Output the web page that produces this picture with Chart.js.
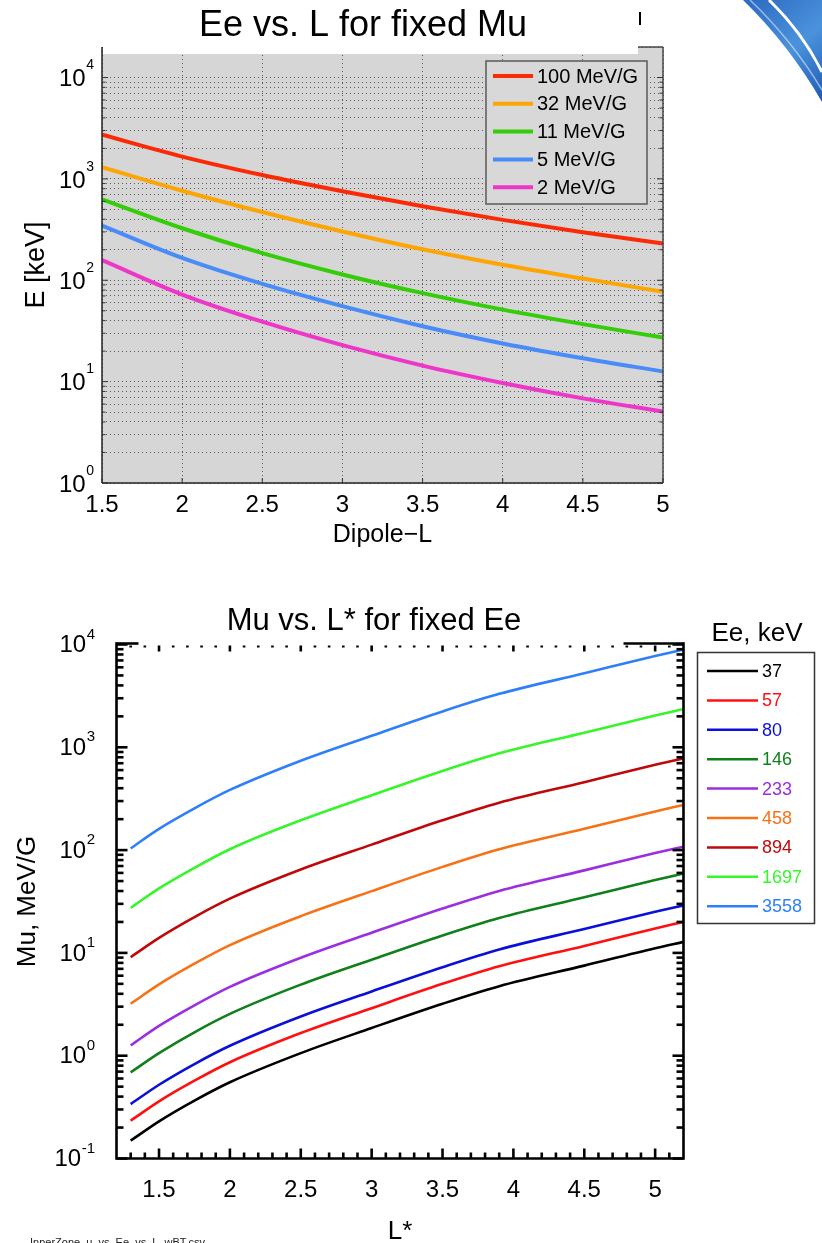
<!DOCTYPE html>
<html>
<head>
<meta charset="utf-8">
<script src="https://cdn.jsdelivr.net/npm/chart.js@4.4.1/dist/chart.umd.min.js"></script>
<style>
  body { margin: 0; background: #fff; width: 822px; height: 1243px; overflow: hidden; position: relative; }
  canvas { position: absolute; left: 0; }
  #topChart { top: 0; }
  #bottomChart { top: 560px; }
</style>
</head>
<body>
<canvas id="topChart" width="822" height="560"></canvas>
<canvas id="bottomChart" width="822" height="683"></canvas>
<script>
// ---- top panel: Ee vs. L for fixed Mu ----
const dipoleL = [1.5, 2, 2.5, 3, 3.5, 4, 4.5, 5];
const muLabels = ['100 MeV/G', '32 MeV/G', '11 MeV/G', '5 MeV/G', '2 MeV/G'];
const muColors = ['#fa2a06', '#fca505', '#35cc0a', '#4a8cf7', '#ee36c8'];
const eMu100 = [2723, 1660, 1091, 755, 538, 394, 298, 230];
const eMu32 = [1303, 764, 471, 303, 202, 142, 104, 77];
const eMu11 = [628, 326, 185, 114, 74.6, 51.3, 36.9, 27.2];
const eMu5 = [346, 166, 92, 55.5, 35.2, 23.8, 17.0, 12.6];
const eMu2 = [158, 72.3, 39.0, 22.9, 14.4, 9.7, 6.84, 5.06];

// ---- bottom panel: Mu vs. L* for fixed Ee ----
const lStar = [1.3, 1.5, 1.75, 2.0, 2.5, 3.0, 3.5, 3.9, 4.5, 5.0, 5.2];
const eeLabels = ['37', '57', '80', '146', '233', '458', '894', '1697', '3558'];
const eeColors = ['#000000', '#ff1010', '#0a10d8', '#10801a', '#9a2ee0', '#f77216', '#c00808', '#36f52a', '#2f7ffa'];
const mu37 = [0.149, 0.230, 0.366, 0.552, 1.06, 1.86, 3.20, 4.74, 7.52, 11.1, 12.8];
const mu57 = [0.233, 0.360, 0.571, 0.863, 1.66, 2.90, 5.00, 7.41, 11.7, 17.3, 20.0];
const mu80 = [0.338, 0.522, 0.830, 1.25, 2.41, 4.22, 7.26, 10.8, 17.1, 25.1, 29.0];
const mu146 = [0.689, 1.06, 1.69, 2.55, 4.91, 8.59, 14.8, 21.9, 34.8, 51.2, 59.2];
const mu233 = [1.26, 1.95, 3.09, 4.67, 8.97, 15.7, 27.0, 40.1, 63.5, 93.5, 108];
const mu458 = [3.20, 4.94, 7.85, 11.9, 22.8, 39.9, 68.7, 102, 161, 238, 275];
const mu894 = [9.08, 14.0, 22.3, 33.7, 64.7, 113, 195, 289, 458, 675, 780];
const mu1697 = [27.4, 42.4, 67.3, 102, 195, 342, 589, 873, 1384, 2037, 2355];
const mu3558 = [104, 161, 255, 385, 741, 1297, 2234, 3311, 5248, 7727, 8933];

const FONT = "'Liberation Sans', Arial, Helvetica, sans-serif";

// 1..9 x 10^k between min and max
function logTicks(min, max) {
  const out = [];
  for (let k = Math.floor(Math.log10(min)); k <= Math.ceil(Math.log10(max)); k++) {
    for (let m = 1; m <= 9; m++) {
      const v = +(m * Math.pow(10, k)).toPrecision(6);
      if (v >= min - 1e-12 && v <= max + 1e-9) out.push({ value: v });
    }
  }
  return out;
}

function line(ctx, x1, y1, x2, y2) {
  ctx.beginPath(); ctx.moveTo(x1, y1); ctx.lineTo(x2, y2); ctx.stroke();
}

function isDecade(v) {
  const e = Math.log10(v);
  return Math.abs(e - Math.round(e)) < 1e-9;
}

// "10" with a raised exponent at every decade tick of a log scale
function drawPowLabels(ctx, scale, rightX, size, expSize, dy10, dyExp, minY) {
  ctx.save();
  ctx.fillStyle = '#000';
  ctx.textBaseline = 'middle';
  scale.ticks.forEach(t => {
    if (!isDecade(t.value)) return;
    const py = scale.getPixelForValue(t.value);
    if (py < minY) return;
    const e = String(Math.round(Math.log10(t.value)));
    ctx.font = expSize + 'px ' + FONT;
    const ew = ctx.measureText(e).width;
    ctx.textAlign = 'left';
    ctx.fillText(e, rightX - ew, py + dyExp);
    ctx.font = size + 'px ' + FONT;
    ctx.textAlign = 'right';
    ctx.fillText('10', rightX - ew - 0.5, py + dy10);
  });
  ctx.restore();
}

// ---------- top chart ----------
const topDecor = {
  id: 'topDecor',
  beforeDraw(chart) {
    const { ctx, chartArea: a } = chart;
    ctx.save();
    ctx.fillStyle = '#d6d6d6';
    ctx.fillRect(a.left, a.top, a.right - a.left, a.bottom - a.top);
    ctx.restore();
  },
  afterDraw(chart) {
    const { ctx, chartArea: a, scales: { x, y } } = chart;
    ctx.save();
    // white title panel covering the top strip of the axes
    ctx.fillStyle = '#fff';
    ctx.fillRect(a.left + 1, 0, 638 - a.left - 1, 54);

    // axes frame
    ctx.lineWidth = 1.5;
    ctx.strokeStyle = '#222';
    line(ctx, a.left, a.top, a.left, a.bottom);
    line(ctx, a.left, a.bottom, a.right, a.bottom);
    ctx.strokeStyle = '#444';
    line(ctx, a.right, a.top, a.right, a.bottom);
    line(ctx, 638, a.top, a.right, a.top);

    // inward ticks
    ctx.lineWidth = 1;
    ctx.strokeStyle = '#333';
    y.ticks.forEach(t => {
      const py = y.getPixelForValue(t.value);
      if (py < 54) return;
      const len = isDecade(t.value) ? 6 : 3.5;
      line(ctx, a.left, py, a.left + len, py);
      line(ctx, a.right, py, a.right - len, py);
    });
    x.ticks.forEach(t => {
      const px = x.getPixelForValue(t.value);
      line(ctx, px, a.bottom, px, a.bottom - 5);
    });
    drawPowLabels(ctx, y, 94, 24, 14, 2, -12, 0);

    // title
    ctx.fillStyle = '#000';
    ctx.font = '36px ' + FONT;
    ctx.textAlign = 'center';
    ctx.textBaseline = 'alphabetic';
    ctx.fillText('Ee vs. L for fixed Mu', 363, 36);
    ctx.lineWidth = 2;
    ctx.strokeStyle = '#000';
    line(ctx, 640, 12, 640, 25);

    // legend
    const bx = 486, by = 61, bw = 161, bh = 143;
    ctx.fillStyle = '#d8d8d8';
    ctx.fillRect(bx, by, bw, bh);
    ctx.lineWidth = 1.5;
    ctx.strokeStyle = '#5a5a5a';
    ctx.strokeRect(bx, by, bw, bh);
    ctx.font = '20px ' + FONT;
    ctx.textAlign = 'left';
    ctx.textBaseline = 'middle';
    chart.data.datasets.forEach((ds, i) => {
      const cy = 76 + i * 27.8;
      ctx.strokeStyle = ds.borderColor;
      ctx.lineWidth = 4;
      line(ctx, 493, cy, 533, cy);
      ctx.fillStyle = '#000';
      ctx.fillText(ds.label, 537, cy + 1);
    });

    // swoosh decoration in the corner
    const g = ctx.createLinearGradient(740, 0, 822, 100);
    g.addColorStop(0, '#2a68c0');
    g.addColorStop(0.55, '#4b92dc');
    g.addColorStop(1, '#1e5cb5');
    ctx.fillStyle = g;
    ctx.beginPath();
    ctx.moveTo(743, 0);
    ctx.quadraticCurveTo(790, 46, 822, 102);
    ctx.lineTo(822, 0);
    ctx.closePath();
    ctx.fill();
    ctx.strokeStyle = '#ffffff';
    ctx.lineWidth = 3;
    ctx.beginPath();
    ctx.moveTo(769, 0);
    ctx.quadraticCurveTo(802, 32, 822, 72);
    ctx.stroke();
    ctx.strokeStyle = 'rgba(255,255,255,0.5)';
    ctx.lineWidth = 1.5;
    ctx.beginPath();
    ctx.moveTo(750, 0);
    ctx.quadraticCurveTo(792, 40, 822, 90);
    ctx.stroke();
    ctx.restore();
  }
};

const topSeries = [eMu100, eMu32, eMu11, eMu5, eMu2];

new Chart(document.getElementById('topChart'), {
  type: 'line',
  data: {
    datasets: topSeries.map((vals, i) => ({
      label: muLabels[i],
      data: dipoleL.map((L, j) => ({ x: L, y: vals[j] })),
      borderColor: muColors[i],
      borderWidth: 4,
      pointRadius: 0,
      cubicInterpolationMode: 'monotone',
      fill: false
    }))
  },
  options: {
    responsive: false,
    animation: false,
    events: [],
    layout: { padding: { left: 0, top: 47, right: 159, bottom: 0 } },
    plugins: { legend: { display: false }, title: { display: false }, tooltip: { enabled: false } },
    scales: {
      x: {
        type: 'linear', min: 1.5, max: 5,
        afterFit: s => { s.height = 77; },
        ticks: { stepSize: 0.5, color: '#000', font: { family: FONT, size: 24 }, padding: 8, maxRotation: 0,
          callback: v => String(Math.round(v * 10) / 10) },
        grid: { color: 'rgba(70,70,70,0.85)', lineWidth: 1, drawTicks: false },
        border: { display: false, dash: [1, 3] },
        title: { display: true, text: 'Dipole\u2212L', color: '#000', font: { family: FONT, size: 25 }, padding: { top: 0, bottom: 10 } }
      },
      y: {
        type: 'logarithmic', min: 1, max: 20000,
        afterFit: s => { s.width = 102; },
        afterBuildTicks: s => { s.ticks = logTicks(1, 20000); },
        ticks: { display: false, autoSkip: false },
        grid: { color: 'rgba(70,70,70,0.85)', lineWidth: 1, drawTicks: false },
        border: { display: false, dash: [1, 3] },
        title: { display: true, text: 'E [keV]', color: '#000', font: { family: FONT, size: 27 }, padding: { top: 20, bottom: 0 } }
      }
    }
  },
  plugins: [topDecor]
});

// ---------- bottom chart ----------
const bottomDecor = {
  id: 'bottomDecor',
  afterDraw(chart) {
    const { ctx, chartArea: a, scales: { x, y } } = chart;
    ctx.save();
    ctx.strokeStyle = '#000';
    ctx.lineWidth = 2.6;
    ctx.lineCap = 'square';
    ctx.beginPath();
    ctx.moveTo(a.left, a.top - 1);
    ctx.lineTo(a.left, a.bottom);
    ctx.lineTo(a.right, a.bottom);
    ctx.lineTo(a.right, a.top - 1);
    ctx.stroke();
    ctx.lineCap = 'butt';
    // top border only near the corners
    line(ctx, a.left, a.top - 1, a.left + 22, a.top - 1);
    line(ctx, a.right - 60, a.top - 1, a.right, a.top - 1);

    y.ticks.forEach(t => {
      const py = y.getPixelForValue(t.value);
      const len = isDecade(t.value) ? 11 : 7;
      line(ctx, a.left, py, a.left + len, py);
      line(ctx, a.right, py, a.right - len, py);
    });
    x.ticks.forEach(t => {
      const px = x.getPixelForValue(t.value);
      if (px < a.left + 2 || px > a.right - 2) return;
      const major = Math.abs(t.value * 2 - Math.round(t.value * 2)) < 1e-6;
      line(ctx, px, a.bottom, px, a.bottom - (major ? 10 : 6));
      line(ctx, px, a.top + 1, px, a.top + (major ? 7 : 3));
    });
    drawPowLabels(ctx, y, 95, 24, 15, 1, -10, -100);

    // title
    ctx.fillStyle = '#000';
    ctx.font = '31px ' + FONT;
    ctx.textAlign = 'center';
    ctx.textBaseline = 'alphabetic';
    ctx.fillText('Mu vs. L* for fixed Ee', 374, 70);

    // legend
    ctx.font = '26px ' + FONT;
    ctx.fillText('Ee, keV', 757, 81);
    ctx.lineWidth = 1.5;
    ctx.strokeStyle = '#333';
    ctx.strokeRect(697.5, 92.5, 117, 271);
    ctx.font = '18px ' + FONT;
    ctx.textAlign = 'left';
    ctx.textBaseline = 'middle';
    chart.data.datasets.forEach((ds, i) => {
      const cy = 111 + i * 29.4;
      ctx.strokeStyle = ds.borderColor;
      ctx.lineWidth = 2.5;
      line(ctx, 707, cy, 758, cy);
      ctx.fillStyle = ds.borderColor;
      ctx.fillText(ds.label, 762, cy + 1);
    });

    // source file name
    ctx.fillStyle = '#222';
    ctx.font = '11px ' + FONT;
    ctx.textBaseline = 'top';
    ctx.fillText('InnerZone_u_vs_Ee_vs_L_wBT.csv', 30, 677);
    ctx.restore();
  }
};

const bottomSeries = [mu37, mu57, mu80, mu146, mu233, mu458, mu894, mu1697, mu3558];

new Chart(document.getElementById('bottomChart'), {
  type: 'line',
  data: {
    datasets: bottomSeries.map((vals, i) => ({
      label: eeLabels[i],
      data: lStar.map((L, j) => ({ x: L, y: vals[j] })),
      borderColor: eeColors[i],
      borderWidth: 2.6,
      pointRadius: 0,
      cubicInterpolationMode: 'monotone',
      fill: false
    }))
  },
  options: {
    responsive: false,
    animation: false,
    events: [],
    layout: { padding: { left: 0, top: 84.5, right: 138.5, bottom: 0 } },
    plugins: { legend: { display: false }, title: { display: false }, tooltip: { enabled: false } },
    scales: {
      x: {
        type: 'linear', min: 1.2, max: 5.2,
        afterFit: s => { s.height = 84.5; },
        afterBuildTicks: s => {
          const t = [];
          for (let k = 12; k <= 52; k++) t.push({ value: k / 10 });
          s.ticks = t;
        },
        ticks: {
          autoSkip: false, maxRotation: 0, color: '#000', font: { family: FONT, size: 24 }, padding: 9,
          callback: v => (Math.abs(v * 2 - Math.round(v * 2)) < 1e-6 ? String(Math.round(v * 10) / 10) : '')
        },
        grid: { display: false },
        border: { display: false },
        title: { display: true, text: 'L*', color: '#000', font: { family: FONT, size: 26 }, padding: { top: 0, bottom: -4 } }
      },
      y: {
        type: 'logarithmic', min: 0.1, max: 10000,
        afterFit: s => { s.width = 116.5; },
        afterBuildTicks: s => { s.ticks = logTicks(0.1, 10000); },
        ticks: { display: false, autoSkip: false },
        grid: { display: false },
        border: { display: false },
        title: { display: true, text: 'Mu, MeV/G', color: '#000', font: { family: FONT, size: 26 }, padding: { top: 12, bottom: 0 } }
      }
    }
  },
  plugins: [bottomDecor]
});
</script>
</body>
</html>
